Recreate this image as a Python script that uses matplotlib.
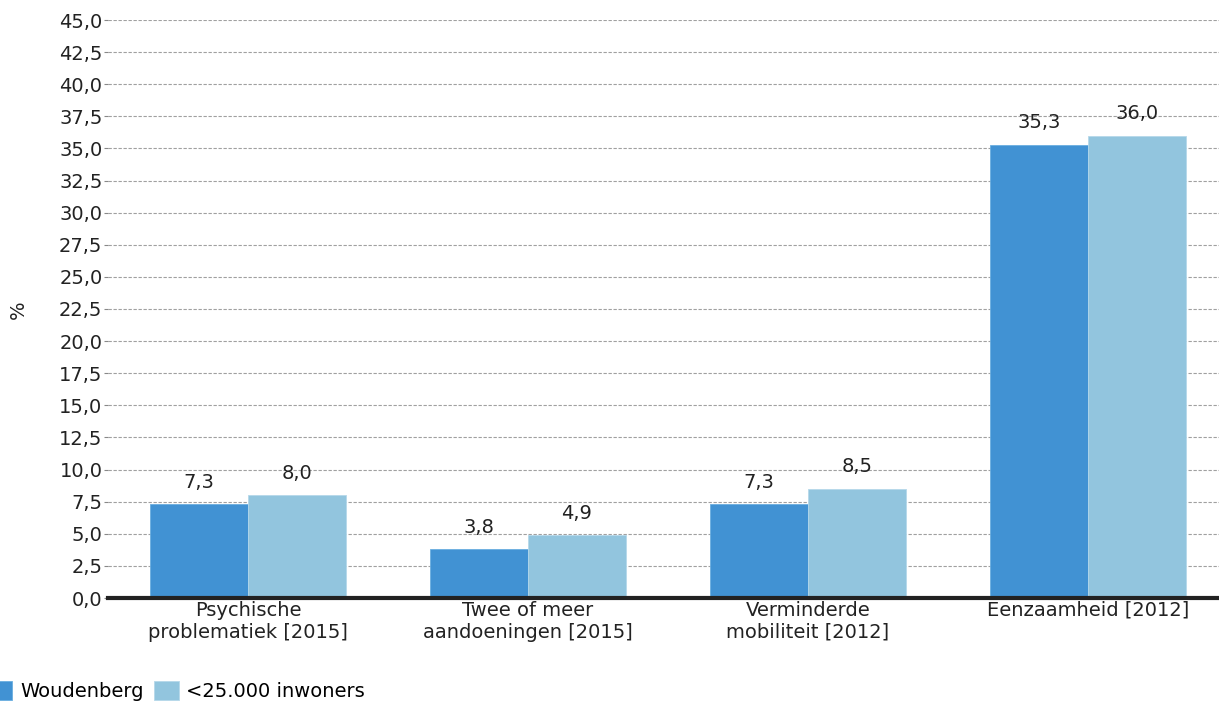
import numpy as np
import matplotlib.pyplot as plt

categories = ['Psychische\nproblematiek [2015]', 'Twee of meer\naandoeningen [2015]',
              'Verminderde\nmobiliteit [2012]', 'Eenzaamheid [2012]']
woudenberg = [7.3, 3.8, 7.3, 35.3]
inwoners = [8.0, 4.9, 8.5, 36.0]
series_names = ['Woudenberg', '<25.000 inwoners']
colors = ['#4192d3', '#92c5de']

fs = 14
plt.rcParams.update({'font.family': 'DejaVu Sans', 'font.size': fs})

fig = plt.figure(figsize=(12.19, 7.02), dpi=100)
ax = fig.add_axes([108/1219, 1-598/702, (1219-108)/1219, (598-20)/702])

x = np.arange(len(categories))
w = 0.35
b1 = ax.bar(x - w/2, woudenberg, w, color=colors[0], edgecolor='#6aaee0', linewidth=0.6, zorder=3)
b2 = ax.bar(x + w/2, inwoners, w, color=colors[1], edgecolor='#b5d8ea', linewidth=0.6, zorder=3)

for bars in (b1, b2):
    for r in bars:
        v = r.get_height()
        ax.annotate(f'{v:.1f}'.replace('.', ','), (r.get_x() + r.get_width()/2, v),
                    xytext=(0, 9), textcoords='offset points', ha='center', va='bottom',
                    fontsize=fs, color='#222222', zorder=4)

ticks = np.arange(0, 45.01, 2.5)
ax.set_yticks(ticks)
ax.set_yticklabels([f'{t:.1f}'.replace('.', ',') for t in ticks], fontsize=fs, color='#222222')
ax.set_ylim(0, 45)
ax.set_xlim(-0.5, 3.5 - 9/280)
ax.set_xticks(x)
ax.set_xticklabels(categories, fontsize=fs, color='#222222', linespacing=1.2)
ax.tick_params(axis='y', length=3, color='#888888', pad=1)
ax.tick_params(axis='x', length=0, pad=2)
ax.yaxis.grid(True, linestyle=(0, (3, 1.5)), color='#a0a0a0', linewidth=0.8, zorder=0)
for s in ['top', 'right', 'left']:
    ax.spines[s].set_visible(False)
ax.spines['bottom'].set_linewidth(3)
ax.spines['bottom'].set_color('#222222')
ax.spines['bottom'].set_zorder(5)

fig.text(18/1219, 1-310/702, '%', rotation=90, ha='center', va='center', fontsize=fs, color='#222222')

fpx = fs * 100 / 72
leg = fig.legend([b1, b2], series_names, loc='center left', bbox_to_anchor=(-13/1219, 1-691/702),
                 ncol=2, frameon=False, fontsize=fs, handlelength=25/fpx, handleheight=22/fpx,
                 handletextpad=8/fpx, columnspacing=10/fpx, borderaxespad=0, borderpad=0)

fig.savefig('out.png', dpi=100)
